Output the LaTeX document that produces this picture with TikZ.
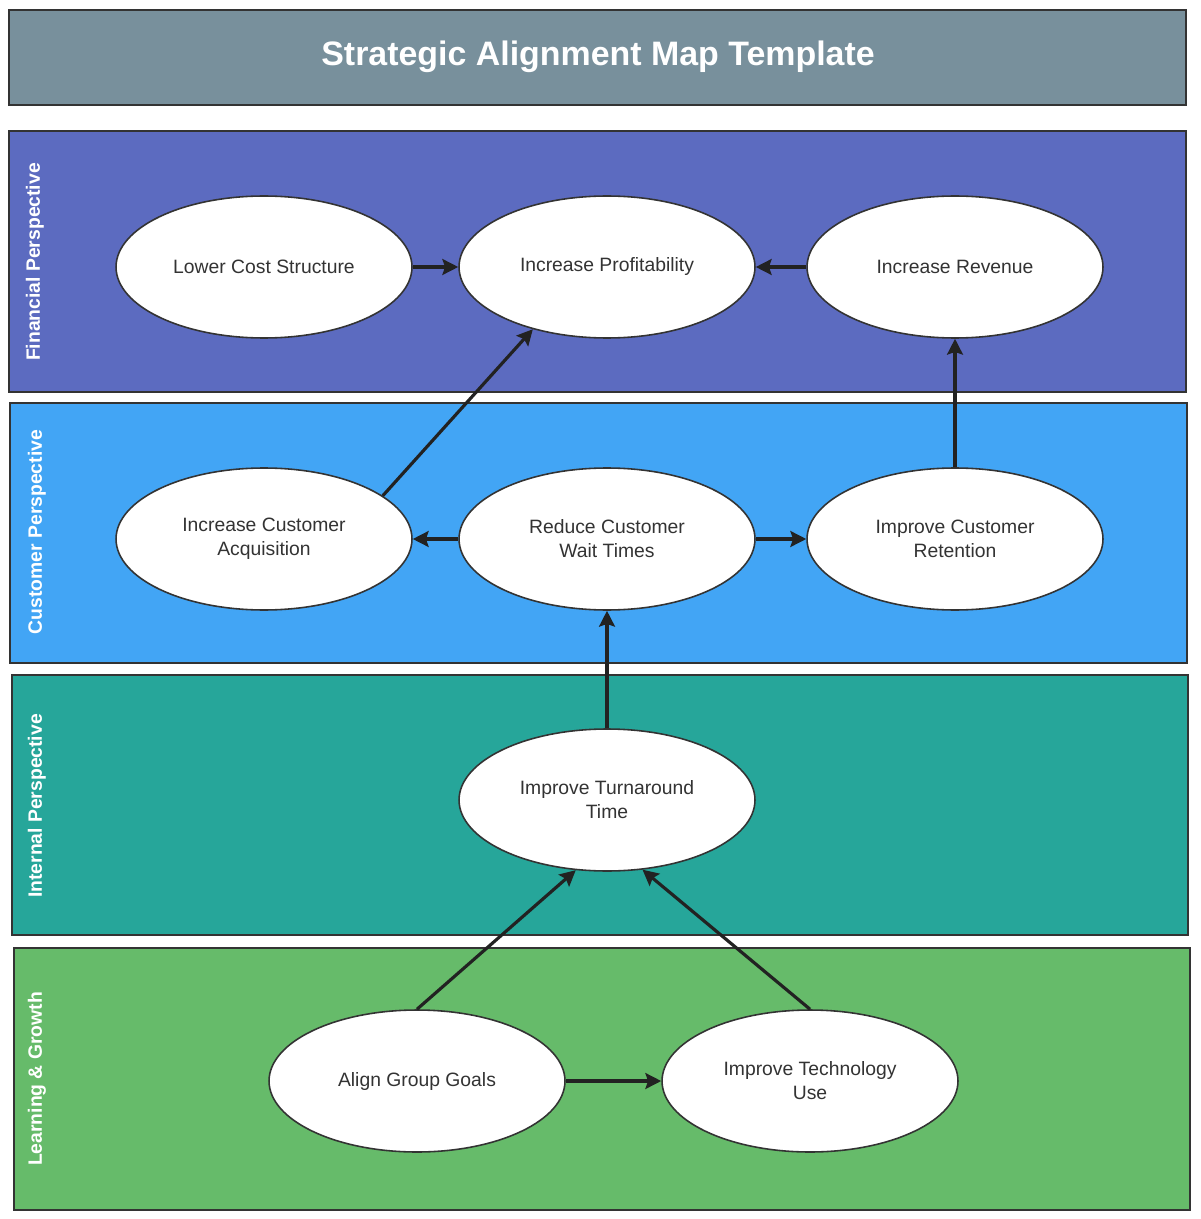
\documentclass[tikz,border=0pt]{standalone}
\usepackage{fontspec}
\setmainfont{Liberation Sans}
\usepackage{tikz}
\usetikzlibrary{shapes.geometric,arrows.meta,positioning}
\definecolor{titlegrey}{HTML}{78909C}
\definecolor{finblue}{HTML}{5C6BC0}
\definecolor{custblue}{HTML}{42A5F5}
\definecolor{intteal}{HTML}{26A69A}
\definecolor{learngreen}{HTML}{66BB6A}
\definecolor{edgegrey}{HTML}{333333}
\definecolor{txtgrey}{HTML}{333333}
\definecolor{arrowgrey}{HTML}{222222}
\tikzset{
  band/.style={draw=edgegrey, line width=1.1pt},
  bandlabel/.style={rotate=90, text=white, font=\fontsize{11}{13}\selectfont\bfseries},
  goal/.style={ellipse, draw=edgegrey, fill=white, line width=0.9pt,
    minimum width=5.92cm, minimum height=2.84cm, align=center, text=txtgrey,
    font=\fontsize{11}{13.6}\selectfont, inner sep=0pt},
  link/.style={draw=arrowgrey, line width=1.8pt,
    -{Stealth[length=9pt, width=9pt, inset=1.5pt]}}
}

\begin{document}
\begin{tikzpicture}[x=0.02cm, y=-0.02cm]
   \useasboundingbox (0,0) rectangle (1200,1219);
   % title and perspective bands
   \draw[band, fill=titlegrey] (9,10) rectangle (1186,105);
   \node[text=white, font=\fontsize{19.3}{22}\selectfont\bfseries] (title) at (598,57) {Strategic Alignment Map Template};
   \draw[band, fill=finblue] (9,131) rectangle (1186,392);
   \draw[band, fill=custblue] (10,403) rectangle (1187,663);
   \draw[band, fill=intteal] (12,675) rectangle (1188,935);
   \draw[band, fill=learngreen] (14,948) rectangle (1190,1210);
   \node[bandlabel] (fin) at (35,262) {Financial Perspective};
   \node[bandlabel] (cust) at (37,532) {Customer Perspective};
   \node[bandlabel] (int) at (37,806) {Internal Perspective};
   \node[bandlabel] (learn) at (37,1079) {Learning \& Growth};
   \begin{scope}[every node/.style={goal}]
    \node (lcs) at (264,267) {Lower Cost Structure};
    \node (ip) at (607,267) {Increase Profitability};
    \node (ir) at (955,267) {Increase Revenue};
    \node (ica) at (264,539) {Increase Customer\\Acquisition};
    \node (rcw) at (607,539) {Reduce Customer\\Wait Times};
    \node (icr) at (955,539) {Improve Customer\\Retention};
    \node (itt) at (607,800) {Improve Turnaround\\Time};
    \node (agg) at (417,1081) {Align Group Goals};
    \node (itu) at (810,1081) {Improve Technology\\Use};
   \end{scope}
   \begin{scope}[every edge/.style={link}]
    \draw (lcs) edge (ip);
    \draw (ir) edge (ip);
    \draw (ica.20.6) edge (ip.220);
    \draw (icr) edge (ir);
    \draw (rcw) edge (ica);
    \draw (rcw) edge (icr);
    \draw (itt) edge (rcw);
    \draw (agg.north) edge (itt.246.5);
    \draw (itu.north) edge (itt.297);
    \draw (agg) edge (itu);
   \end{scope}
\end{tikzpicture}
\end{document}
